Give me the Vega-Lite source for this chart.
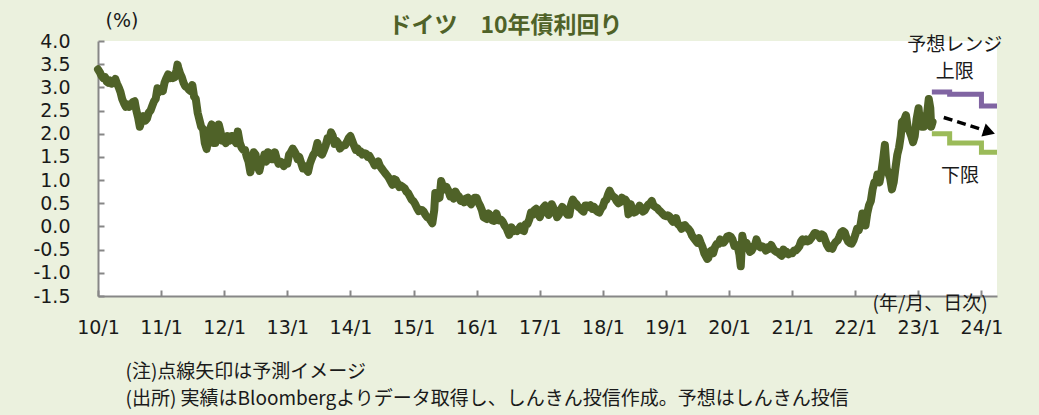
{
"$schema": "https://vega.github.io/schema/vega-lite/v6.json",
"width": 899, "height": 255,
"autosize": {"type": "none"},
"padding": {"left": 98, "top": 41, "right": 42, "bottom": 119},
"background": "#EBF1DE",
"config": {"view": {"fill": "#ffffff", "stroke": null}, "font": "DejaVu Sans"},
"title": {"text": "ドイツ　10年債利回り", "font": "Noto Sans CJK JP", "fontSize": 23, "fontWeight": "bold", "color": "#4F6228", "anchor": "middle", "frame": "group", "dx": -42, "dy": 33, "offset": 6},
"datasets": {
"hist": [
{"d":"2010-01-01","v":3.39},{"d":"2010-01-11","v":3.33},{"d":"2010-01-21","v":3.25},{"d":"2010-02-01","v":3.2},{"d":"2010-02-11","v":3.22},{"d":"2010-02-21","v":3.12},{"d":"2010-03-01","v":3.1},{"d":"2010-03-11","v":3.15},{"d":"2010-03-21","v":3.08},{"d":"2010-04-01","v":3.12},{"d":"2010-04-11","v":3.18},{"d":"2010-04-21","v":3.08},{"d":"2010-05-01","v":3.0},{"d":"2010-05-11","v":2.9},{"d":"2010-05-21","v":2.75},{"d":"2010-06-01","v":2.65},{"d":"2010-06-11","v":2.58},{"d":"2010-06-21","v":2.63},{"d":"2010-07-01","v":2.58},{"d":"2010-07-11","v":2.62},{"d":"2010-07-21","v":2.68},{"d":"2010-08-01","v":2.7},{"d":"2010-08-11","v":2.5},{"d":"2010-08-21","v":2.35},{"d":"2010-08-31","v":2.15},{"d":"2010-09-11","v":2.3},{"d":"2010-09-21","v":2.38},{"d":"2010-10-01","v":2.28},{"d":"2010-10-11","v":2.32},{"d":"2010-10-21","v":2.45},{"d":"2010-11-01","v":2.5},{"d":"2010-11-11","v":2.6},{"d":"2010-11-21","v":2.7},{"d":"2010-12-01","v":2.75},{"d":"2010-12-11","v":2.98},{"d":"2010-12-21","v":2.9},
{"d":"2011-01-01","v":2.95},{"d":"2011-01-11","v":2.92},{"d":"2011-01-21","v":3.1},{"d":"2011-02-01","v":3.2},{"d":"2011-02-11","v":3.28},{"d":"2011-02-21","v":3.2},{"d":"2011-03-01","v":3.25},{"d":"2011-03-11","v":3.2},{"d":"2011-03-21","v":3.22},{"d":"2011-04-01","v":3.38},{"d":"2011-04-06","v":3.49},{"d":"2011-04-11","v":3.42},{"d":"2011-04-21","v":3.3},{"d":"2011-05-01","v":3.22},{"d":"2011-05-11","v":3.1},{"d":"2011-05-21","v":3.02},{"d":"2011-06-01","v":3.0},{"d":"2011-06-11","v":2.95},{"d":"2011-06-21","v":2.92},{"d":"2011-07-01","v":3.05},{"d":"2011-07-11","v":2.8},{"d":"2011-07-21","v":2.75},{"d":"2011-08-01","v":2.45},{"d":"2011-08-11","v":2.3},{"d":"2011-08-21","v":2.15},{"d":"2011-09-01","v":2.1},{"d":"2011-09-11","v":1.8},{"d":"2011-09-22","v":1.67},{"d":"2011-10-01","v":1.9},{"d":"2011-10-11","v":2.1},{"d":"2011-10-21","v":2.2},{"d":"2011-11-01","v":1.8},{"d":"2011-11-11","v":1.8},{"d":"2011-11-21","v":2.0},{"d":"2011-12-01","v":2.2},{"d":"2011-12-11","v":2.05},{"d":"2011-12-21","v":1.85},
{"d":"2012-01-01","v":1.85},{"d":"2012-01-11","v":1.8},{"d":"2012-01-21","v":1.95},{"d":"2012-02-01","v":1.85},{"d":"2012-02-11","v":1.95},{"d":"2012-02-21","v":1.95},{"d":"2012-03-01","v":1.85},{"d":"2012-03-11","v":1.8},{"d":"2012-03-20","v":2.05},{"d":"2012-04-01","v":1.8},{"d":"2012-04-11","v":1.7},{"d":"2012-04-21","v":1.65},{"d":"2012-05-01","v":1.65},{"d":"2012-05-11","v":1.5},{"d":"2012-05-21","v":1.4},{"d":"2012-06-01","v":1.17},{"d":"2012-06-11","v":1.4},{"d":"2012-06-21","v":1.6},{"d":"2012-07-01","v":1.55},{"d":"2012-07-11","v":1.3},{"d":"2012-07-23","v":1.2},{"d":"2012-08-01","v":1.35},{"d":"2012-08-11","v":1.4},{"d":"2012-08-21","v":1.55},{"d":"2012-09-01","v":1.4},{"d":"2012-09-11","v":1.6},{"d":"2012-09-21","v":1.58},{"d":"2012-10-01","v":1.45},{"d":"2012-10-11","v":1.45},{"d":"2012-10-21","v":1.6},{"d":"2012-11-01","v":1.45},{"d":"2012-11-11","v":1.35},{"d":"2012-11-21","v":1.4},{"d":"2012-12-01","v":1.38},{"d":"2012-12-11","v":1.3},{"d":"2012-12-21","v":1.35},
{"d":"2013-01-01","v":1.35},{"d":"2013-01-11","v":1.55},{"d":"2013-01-21","v":1.6},{"d":"2013-02-01","v":1.68},{"d":"2013-02-11","v":1.62},{"d":"2013-02-21","v":1.55},{"d":"2013-03-01","v":1.45},{"d":"2013-03-11","v":1.5},{"d":"2013-03-21","v":1.38},{"d":"2013-04-01","v":1.25},{"d":"2013-04-11","v":1.3},{"d":"2013-04-21","v":1.22},{"d":"2013-05-01","v":1.18},{"d":"2013-05-11","v":1.35},{"d":"2013-05-21","v":1.45},{"d":"2013-06-01","v":1.55},{"d":"2013-06-11","v":1.6},{"d":"2013-06-24","v":1.8},{"d":"2013-07-01","v":1.7},{"d":"2013-07-11","v":1.58},{"d":"2013-07-21","v":1.55},{"d":"2013-08-01","v":1.65},{"d":"2013-08-11","v":1.75},{"d":"2013-08-21","v":1.9},{"d":"2013-09-01","v":1.88},{"d":"2013-09-11","v":2.03},{"d":"2013-09-21","v":1.95},{"d":"2013-10-01","v":1.78},{"d":"2013-10-11","v":1.85},{"d":"2013-10-21","v":1.8},{"d":"2013-11-01","v":1.68},{"d":"2013-11-11","v":1.72},{"d":"2013-11-21","v":1.75},{"d":"2013-12-01","v":1.75},{"d":"2013-12-11","v":1.82},{"d":"2013-12-21","v":1.9},
{"d":"2014-01-01","v":1.95},{"d":"2014-01-11","v":1.85},{"d":"2014-01-21","v":1.75},{"d":"2014-02-01","v":1.65},{"d":"2014-02-11","v":1.68},{"d":"2014-02-21","v":1.6},{"d":"2014-03-01","v":1.62},{"d":"2014-03-11","v":1.55},{"d":"2014-03-21","v":1.58},{"d":"2014-04-01","v":1.57},{"d":"2014-04-11","v":1.5},{"d":"2014-04-21","v":1.52},{"d":"2014-05-01","v":1.45},{"d":"2014-05-11","v":1.4},{"d":"2014-05-21","v":1.32},{"d":"2014-06-01","v":1.35},{"d":"2014-06-11","v":1.4},{"d":"2014-06-21","v":1.3},{"d":"2014-07-01","v":1.25},{"d":"2014-07-11","v":1.2},{"d":"2014-07-21","v":1.15},{"d":"2014-08-01","v":1.1},{"d":"2014-08-11","v":1.05},{"d":"2014-08-21","v":0.98},{"d":"2014-09-01","v":0.9},{"d":"2014-09-11","v":1.02},{"d":"2014-09-21","v":1.0},{"d":"2014-10-01","v":0.92},{"d":"2014-10-11","v":0.85},{"d":"2014-10-21","v":0.88},{"d":"2014-11-01","v":0.85},{"d":"2014-11-11","v":0.82},{"d":"2014-11-21","v":0.75},{"d":"2014-12-01","v":0.72},{"d":"2014-12-11","v":0.65},{"d":"2014-12-21","v":0.58},
{"d":"2015-01-01","v":0.54},{"d":"2015-01-11","v":0.48},{"d":"2015-01-21","v":0.4},{"d":"2015-02-01","v":0.33},{"d":"2015-02-11","v":0.36},{"d":"2015-02-21","v":0.35},{"d":"2015-03-01","v":0.32},{"d":"2015-03-11","v":0.25},{"d":"2015-03-21","v":0.2},{"d":"2015-04-01","v":0.18},{"d":"2015-04-11","v":0.12},{"d":"2015-04-20","v":0.07},{"d":"2015-05-01","v":0.35},{"d":"2015-05-07","v":0.72},{"d":"2015-05-21","v":0.6},{"d":"2015-06-01","v":0.62},{"d":"2015-06-10","v":0.98},{"d":"2015-06-21","v":0.85},{"d":"2015-07-01","v":0.8},{"d":"2015-07-11","v":0.85},{"d":"2015-07-21","v":0.78},{"d":"2015-08-01","v":0.65},{"d":"2015-08-11","v":0.68},{"d":"2015-08-21","v":0.6},{"d":"2015-09-01","v":0.75},{"d":"2015-09-11","v":0.68},{"d":"2015-09-21","v":0.65},{"d":"2015-10-01","v":0.55},{"d":"2015-10-11","v":0.58},{"d":"2015-10-21","v":0.52},{"d":"2015-11-01","v":0.6},{"d":"2015-11-11","v":0.62},{"d":"2015-11-21","v":0.52},{"d":"2015-12-01","v":0.48},{"d":"2015-12-11","v":0.58},{"d":"2015-12-21","v":0.62},
{"d":"2016-01-01","v":0.62},{"d":"2016-01-11","v":0.52},{"d":"2016-01-21","v":0.45},{"d":"2016-02-01","v":0.35},{"d":"2016-02-11","v":0.2},{"d":"2016-02-21","v":0.18},{"d":"2016-03-01","v":0.16},{"d":"2016-03-11","v":0.28},{"d":"2016-03-21","v":0.22},{"d":"2016-04-01","v":0.13},{"d":"2016-04-11","v":0.12},{"d":"2016-04-25","v":0.28},{"d":"2016-05-01","v":0.2},{"d":"2016-05-11","v":0.13},{"d":"2016-05-21","v":0.15},{"d":"2016-06-01","v":0.1},{"d":"2016-06-11","v":0.02},{"d":"2016-06-24","v":-0.05},{"d":"2016-07-01","v":-0.12},{"d":"2016-07-08","v":-0.18},{"d":"2016-07-21","v":-0.02},{"d":"2016-08-01","v":-0.1},{"d":"2016-08-11","v":-0.08},{"d":"2016-08-21","v":-0.1},{"d":"2016-09-01","v":-0.05},{"d":"2016-09-11","v":0.0},{"d":"2016-09-21","v":-0.08},{"d":"2016-10-01","v":-0.1},{"d":"2016-10-11","v":0.05},{"d":"2016-10-21","v":0.05},{"d":"2016-11-01","v":0.15},{"d":"2016-11-11","v":0.3},{"d":"2016-11-21","v":0.25},{"d":"2016-12-01","v":0.35},{"d":"2016-12-11","v":0.38},{"d":"2016-12-21","v":0.28},
{"d":"2017-01-01","v":0.2},{"d":"2017-01-11","v":0.3},{"d":"2017-01-21","v":0.4},{"d":"2017-02-01","v":0.45},{"d":"2017-02-11","v":0.32},{"d":"2017-02-21","v":0.25},{"d":"2017-03-01","v":0.3},{"d":"2017-03-11","v":0.48},{"d":"2017-03-21","v":0.4},{"d":"2017-04-01","v":0.33},{"d":"2017-04-11","v":0.2},{"d":"2017-04-21","v":0.25},{"d":"2017-05-01","v":0.35},{"d":"2017-05-11","v":0.42},{"d":"2017-05-21","v":0.38},{"d":"2017-06-01","v":0.3},{"d":"2017-06-11","v":0.25},{"d":"2017-06-21","v":0.25},{"d":"2017-07-01","v":0.47},{"d":"2017-07-11","v":0.58},{"d":"2017-07-21","v":0.52},{"d":"2017-08-01","v":0.48},{"d":"2017-08-11","v":0.42},{"d":"2017-08-21","v":0.4},{"d":"2017-09-01","v":0.35},{"d":"2017-09-11","v":0.32},{"d":"2017-09-21","v":0.45},{"d":"2017-10-01","v":0.45},{"d":"2017-10-11","v":0.42},{"d":"2017-10-21","v":0.46},{"d":"2017-11-01","v":0.38},{"d":"2017-11-11","v":0.42},{"d":"2017-11-21","v":0.35},{"d":"2017-12-01","v":0.32},{"d":"2017-12-11","v":0.3},{"d":"2017-12-21","v":0.38},
{"d":"2018-01-01","v":0.43},{"d":"2018-01-11","v":0.55},{"d":"2018-01-21","v":0.57},{"d":"2018-02-01","v":0.7},{"d":"2018-02-09","v":0.77},{"d":"2018-02-21","v":0.68},{"d":"2018-03-01","v":0.65},{"d":"2018-03-11","v":0.62},{"d":"2018-03-21","v":0.55},{"d":"2018-04-01","v":0.5},{"d":"2018-04-11","v":0.52},{"d":"2018-04-21","v":0.62},{"d":"2018-05-01","v":0.57},{"d":"2018-05-11","v":0.58},{"d":"2018-05-21","v":0.52},{"d":"2018-05-29","v":0.26},{"d":"2018-06-11","v":0.48},{"d":"2018-06-21","v":0.35},{"d":"2018-07-01","v":0.3},{"d":"2018-07-11","v":0.32},{"d":"2018-07-21","v":0.36},{"d":"2018-08-01","v":0.45},{"d":"2018-08-11","v":0.38},{"d":"2018-08-21","v":0.32},{"d":"2018-09-01","v":0.35},{"d":"2018-09-11","v":0.42},{"d":"2018-09-21","v":0.47},{"d":"2018-10-01","v":0.5},{"d":"2018-10-11","v":0.55},{"d":"2018-10-21","v":0.45},{"d":"2018-11-01","v":0.42},{"d":"2018-11-11","v":0.4},{"d":"2018-11-21","v":0.35},{"d":"2018-12-01","v":0.32},{"d":"2018-12-11","v":0.28},{"d":"2018-12-21","v":0.24},
{"d":"2019-01-01","v":0.22},{"d":"2019-01-11","v":0.24},{"d":"2019-01-21","v":0.22},{"d":"2019-02-01","v":0.15},{"d":"2019-02-11","v":0.1},{"d":"2019-02-21","v":0.12},{"d":"2019-03-01","v":0.18},{"d":"2019-03-11","v":0.05},{"d":"2019-03-21","v":0.02},{"d":"2019-04-01","v":-0.05},{"d":"2019-04-11","v":0.02},{"d":"2019-04-21","v":0.03},{"d":"2019-05-01","v":-0.02},{"d":"2019-05-11","v":-0.05},{"d":"2019-05-21","v":-0.1},{"d":"2019-06-01","v":-0.2},{"d":"2019-06-11","v":-0.25},{"d":"2019-06-21","v":-0.3},{"d":"2019-07-01","v":-0.35},{"d":"2019-07-11","v":-0.25},{"d":"2019-07-21","v":-0.35},{"d":"2019-08-01","v":-0.45},{"d":"2019-08-11","v":-0.58},{"d":"2019-08-28","v":-0.7},{"d":"2019-09-03","v":-0.68},{"d":"2019-09-11","v":-0.55},{"d":"2019-09-21","v":-0.52},{"d":"2019-10-01","v":-0.58},{"d":"2019-10-11","v":-0.45},{"d":"2019-10-21","v":-0.38},{"d":"2019-11-01","v":-0.38},{"d":"2019-11-11","v":-0.28},{"d":"2019-11-21","v":-0.35},{"d":"2019-12-01","v":-0.35},{"d":"2019-12-11","v":-0.3},{"d":"2019-12-21","v":-0.22},
{"d":"2020-01-01","v":-0.2},{"d":"2020-01-11","v":-0.22},{"d":"2020-01-21","v":-0.28},{"d":"2020-02-01","v":-0.42},{"d":"2020-02-11","v":-0.4},{"d":"2020-02-21","v":-0.45},{"d":"2020-03-01","v":-0.6},{"d":"2020-03-09","v":-0.86},{"d":"2020-03-18","v":-0.2},{"d":"2020-04-01","v":-0.45},{"d":"2020-04-11","v":-0.35},{"d":"2020-04-21","v":-0.45},{"d":"2020-05-01","v":-0.55},{"d":"2020-05-11","v":-0.52},{"d":"2020-05-21","v":-0.45},{"d":"2020-06-01","v":-0.38},{"d":"2020-06-08","v":-0.28},{"d":"2020-06-21","v":-0.42},{"d":"2020-07-01","v":-0.45},{"d":"2020-07-11","v":-0.43},{"d":"2020-07-21","v":-0.45},{"d":"2020-08-01","v":-0.52},{"d":"2020-08-11","v":-0.45},{"d":"2020-08-21","v":-0.48},{"d":"2020-09-01","v":-0.4},{"d":"2020-09-11","v":-0.47},{"d":"2020-09-21","v":-0.52},{"d":"2020-10-01","v":-0.55},{"d":"2020-10-11","v":-0.55},{"d":"2020-10-21","v":-0.6},{"d":"2020-11-01","v":-0.63},{"d":"2020-11-11","v":-0.5},{"d":"2020-11-21","v":-0.58},{"d":"2020-12-01","v":-0.55},{"d":"2020-12-11","v":-0.6},{"d":"2020-12-21","v":-0.58},
{"d":"2021-01-01","v":-0.58},{"d":"2021-01-11","v":-0.52},{"d":"2021-01-21","v":-0.52},{"d":"2021-02-01","v":-0.48},{"d":"2021-02-11","v":-0.43},{"d":"2021-02-21","v":-0.32},{"d":"2021-03-01","v":-0.28},{"d":"2021-03-11","v":-0.32},{"d":"2021-03-21","v":-0.28},{"d":"2021-04-01","v":-0.32},{"d":"2021-04-11","v":-0.3},{"d":"2021-04-21","v":-0.25},{"d":"2021-05-01","v":-0.2},{"d":"2021-05-11","v":-0.14},{"d":"2021-05-21","v":-0.15},{"d":"2021-06-01","v":-0.18},{"d":"2021-06-11","v":-0.25},{"d":"2021-06-21","v":-0.17},{"d":"2021-07-01","v":-0.2},{"d":"2021-07-11","v":-0.3},{"d":"2021-07-21","v":-0.4},{"d":"2021-08-01","v":-0.47},{"d":"2021-08-11","v":-0.46},{"d":"2021-08-21","v":-0.48},{"d":"2021-09-01","v":-0.38},{"d":"2021-09-11","v":-0.33},{"d":"2021-09-21","v":-0.3},{"d":"2021-10-01","v":-0.22},{"d":"2021-10-11","v":-0.13},{"d":"2021-10-21","v":-0.1},{"d":"2021-11-01","v":-0.13},{"d":"2021-11-11","v":-0.25},{"d":"2021-11-21","v":-0.33},{"d":"2021-12-01","v":-0.36},{"d":"2021-12-11","v":-0.37},{"d":"2021-12-21","v":-0.3},
{"d":"2022-01-01","v":-0.18},{"d":"2022-01-11","v":-0.05},{"d":"2022-01-21","v":-0.08},{"d":"2022-02-01","v":0.05},{"d":"2022-02-11","v":0.28},{"d":"2022-02-21","v":0.22},{"d":"2022-03-01","v":0.02},{"d":"2022-03-11","v":0.28},{"d":"2022-03-21","v":0.45},{"d":"2022-04-01","v":0.55},{"d":"2022-04-11","v":0.8},{"d":"2022-04-21","v":0.95},{"d":"2022-05-01","v":0.95},{"d":"2022-05-09","v":1.12},{"d":"2022-05-21","v":0.95},{"d":"2022-06-01","v":1.18},{"d":"2022-06-11","v":1.45},{"d":"2022-06-21","v":1.76},{"d":"2022-07-01","v":1.25},{"d":"2022-07-11","v":1.15},{"d":"2022-07-21","v":1.05},{"d":"2022-08-01","v":0.8},{"d":"2022-08-11","v":0.95},{"d":"2022-08-21","v":1.25},{"d":"2022-09-01","v":1.55},{"d":"2022-09-11","v":1.7},{"d":"2022-09-21","v":1.95},{"d":"2022-09-28","v":2.25},{"d":"2022-10-11","v":2.3},{"d":"2022-10-21","v":2.4},{"d":"2022-11-01","v":2.12},{"d":"2022-11-11","v":2.05},{"d":"2022-11-21","v":1.95},{"d":"2022-12-01","v":1.82},{"d":"2022-12-11","v":1.95},{"d":"2022-12-21","v":2.3},
{"d":"2023-01-02","v":2.55},{"d":"2023-01-11","v":2.2},{"d":"2023-01-21","v":2.15},{"d":"2023-02-01","v":2.15},{"d":"2023-02-11","v":2.35},{"d":"2023-02-21","v":2.45},{"d":"2023-03-02","v":2.75},{"d":"2023-03-11","v":2.55},{"d":"2023-03-16","v":2.15},{"d":"2023-03-24","v":2.25}
],
"rng": [
{"d":"2023-03-20","v":2.9,"s":"上限"},{"d":"2023-07-01","v":2.85,"s":"上限"},{"d":"2024-01-01","v":2.6,"s":"上限"},{"d":"2024-03-31","v":2.6,"s":"上限"},
{"d":"2023-03-20","v":2.0,"s":"下限"},{"d":"2023-07-01","v":1.8,"s":"下限"},{"d":"2024-01-01","v":1.6,"s":"下限"},{"d":"2024-03-31","v":1.6,"s":"下限"}
],
"arr": [{"d":"2023-05-28","v":2.35},{"d":"2024-01-22","v":2.07}],
"head": [{"d":"2024-02-15","v":2.04}],
"notes": [
{"d":"2023-07-31","v":3.91,"t":"予想レンジ"},
{"d":"2023-07-31","v":3.33,"t":"上限"},
{"d":"2023-08-30","v":1.09,"t":"下限"},
{"d":"2023-03-10","v":-1.68,"t":"(年/月、日次)"}
]
},
"encoding": {
"x": {"field": "d", "type": "temporal",
 "scale": {"type": "utc", "domain": [{"year":2010,"month":1,"date":1,"utc":true},{"year":2024,"month":3,"date":31,"utc":true}]},
 "axis": {"values": [{"year":2010,"month":1,"date":1,"utc":true},{"year":2011,"month":1,"date":1,"utc":true},{"year":2012,"month":1,"date":1,"utc":true},{"year":2013,"month":1,"date":1,"utc":true},{"year":2014,"month":1,"date":1,"utc":true},{"year":2015,"month":1,"date":1,"utc":true},{"year":2016,"month":1,"date":1,"utc":true},{"year":2017,"month":1,"date":1,"utc":true},{"year":2018,"month":1,"date":1,"utc":true},{"year":2019,"month":1,"date":1,"utc":true},{"year":2020,"month":1,"date":1,"utc":true},{"year":2021,"month":1,"date":1,"utc":true},{"year":2022,"month":1,"date":1,"utc":true},{"year":2023,"month":1,"date":1,"utc":true},{"year":2024,"month":1,"date":1,"utc":true}],
  "labelExpr": "utcFormat(datum.value, '%y/%-m')",
  "grid": false, "tickSize": -6, "tickColor": "#878787", "tickWidth": 2, "domainColor": "#878787", "domainWidth": 2,
  "labelFont": "DejaVu Sans", "labelFontSize": 19, "labelColor": "#1a1a1a", "labelPadding": 28, "labelFlush": false, "labelOverlap": false,
  "title": ["(注)点線矢印は予測イメージ", "(出所) 実績はBloombergよりデータ取得し、しんきん投信作成。予想はしんきん投信"],
  "titleFont": "Noto Sans CJK JP", "titleFontSize": 19, "titleFontWeight": "normal", "titleColor": "#1a1a1a",
  "titleAnchor": "start", "titleAlign": "left", "titleBaseline": "top", "titleX": 27, "titleY": 66, "titleLineHeight": 27}},
"y": {"field": "v", "type": "quantitative",
 "scale": {"domain": [-1.5, 4], "nice": false, "zero": false},
 "axis": {"values": [-1.5,-1,-0.5,0,0.5,1,1.5,2,2.5,3,3.5,4], "labelExpr": "replace(format(datum.value, '.1f'), '−', '-')",
  "grid": false, "tickSize": -6, "tickColor": "#878787", "tickWidth": 2, "domainColor": "#878787", "domainWidth": 2,
  "labelFont": "DejaVu Sans", "labelFontSize": 19, "labelColor": "#1a1a1a", "labelPadding": 34, "labelFlush": false, "labelOverlap": false,
  "title": "(%)", "titleAngle": 0, "titleX": 7, "titleY": -21, "titleAlign": "left", "titleBaseline": "middle",
  "titleFont": "DejaVu Sans", "titleFontSize": 19, "titleFontWeight": "normal", "titleColor": "#1a1a1a"}}
},
"layer": [
{"data": {"name": "hist"}, "mark": {"type": "line", "color": "#4F6228", "strokeWidth": 8, "strokeCap": "round", "strokeJoin": "round"}},
{"data": {"name": "rng"}, "mark": {"type": "line", "strokeWidth": 5, "interpolate": "step-after", "strokeCap": "butt"},
 "encoding": {"color": {"field": "s", "type": "nominal", "scale": {"domain": ["上限","下限"], "range": ["#8064A2","#9BBB59"]}, "legend": null}}},
{"data": {"name": "arr"}, "mark": {"type": "line", "color": "#000000", "strokeWidth": 3.5, "strokeDash": [9,5]}},
{"data": {"name": "head"}, "mark": {"type": "point", "shape": "triangle-right", "filled": true, "color": "#000000", "opacity": 1, "size": 190, "angle": 18}},
{"data": {"name": "notes"}, "mark": {"type": "text", "font": "Noto Sans CJK JP", "fontSize": 19, "color": "#1a1a1a", "align": "center", "baseline": "middle"},
 "encoding": {"text": {"field": "t", "type": "nominal"}}}
]
}
